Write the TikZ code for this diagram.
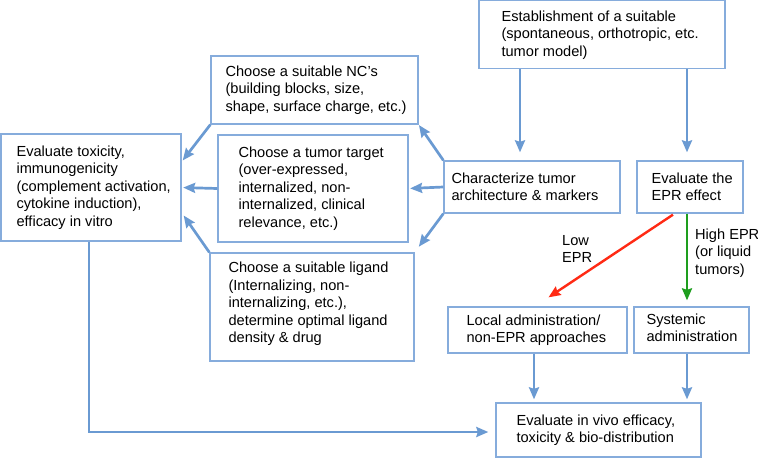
\documentclass[tikz,border=0pt]{standalone}
\usepackage{fontspec}
\setmainfont{Liberation Sans}
\usetikzlibrary{arrows.meta}
\definecolor{boxblue}{HTML}{86ACDC}
\definecolor{arrblue}{HTML}{6A9AD2}
\definecolor{arrred}{HTML}{FF2A14}
\definecolor{arrgreen}{HTML}{1E9E1E}
\begin{document}
\begin{tikzpicture}[x=1pt,y=-1pt,
  box/.style={draw=boxblue, line width=1.3pt, inner sep=0pt},
  txt/.style={align=left, inner sep=0pt, font=\fontsize{14.6}{17.5}\selectfont, text=black},
  arr/.style={draw=arrblue, line width=2.7pt, -{Stealth[length=12pt,width=10pt,inset=1.5pt]}},
  redarr/.style={arr, draw=arrred},
  greenarr/.style={arr, draw=arrgreen}]
\useasboundingbox (0,0) rectangle (758,458);

% boxes
\node[box, minimum width=246pt, minimum height=68pt] (est) at (602,34.8) {};
\node[txt, anchor=west] at ([xshift=23pt]est.west) {Establishment of a suitable\\(spontaneous, orthotropic, etc.\\tumor model)};

\node[box, minimum width=207pt, minimum height=68pt] (nc) at (314.5,90) {};
\node[txt, anchor=west] at ([xshift=15pt]nc.west) {Choose a suitable NC's\\(building blocks, size,\\shape, surface charge, etc.)};

\node[box, minimum width=180pt, minimum height=107pt] (tox) at (91,187.5) {};
\node[txt, anchor=west] at ([xshift=16pt]tox.west) {Evaluate toxicity,\\immunogenicity\\(complement activation,\\cytokine induction),\\efficacy in vitro};

\node[box, minimum width=190pt, minimum height=107pt] (tumor) at (313,188.5) {};
\node[txt, anchor=west] at ([xshift=21pt]tumor.west) {Choose a tumor target\\(over-expressed,\\internalized, non-\\internalized, clinical\\relevance, etc.)};

\node[box, minimum width=176pt, minimum height=52pt] (char) at (532,187) {};
\node[txt, anchor=west] at ([xshift=8pt]char.west) {Characterize tumor\\architecture \& markers};

\node[box, minimum width=106pt, minimum height=52pt] (epr) at (690,187) {};
\node[txt, anchor=west] at ([xshift=15pt]epr.west) {Evaluate the\\EPR effect};

\node[box, minimum width=204pt, minimum height=108pt] (lig) at (312,307) {};
\node[txt, anchor=west] at ([xshift=19pt,yshift=3pt]lig.west) {Choose a suitable ligand\\(Internalizing, non-\\internalizing, etc.),\\determine optimal ligand\\density \& drug};

\node[box, minimum width=179pt, minimum height=46pt] (local) at (537.5,330) {};
\node[txt, anchor=west] at ([xshift=19pt]local.west) {Local administration/\\non-EPR approaches};

\node[box, minimum width=115pt, minimum height=46pt] (sys) at (691.5,330) {};
\node[txt, anchor=west] at ([xshift=13pt,yshift=2pt]sys.west) {Systemic\\administration};

\node[box, minimum width=205pt, minimum height=54pt] (vivo) at (598.5,430) {};
\node[txt, anchor=west] at ([xshift=21pt]vivo.west) {Evaluate in vivo efficacy,\\toxicity \& bio-distribution};

% labels
\node[txt, anchor=west] (low) at (562,249) {Low\\EPR};
\node[txt, anchor=west] (high) at (695,253) {High EPR\\(or liquid\\tumors)};

% connectors
\draw[arr, shorten >=8pt] (est.south -| 520,0) -- (char.north -| 520,0);
\draw[arr, shorten >=8pt] (est.south -| 687,0) -- (epr.north -| 687,0);
\draw[arr, shorten >=0.5pt] (char.north west) -- (nc.south east);
\draw[arr, shorten >=1.5pt] (char.west) -- (tumor.east);
\draw[arr, shorten >=7pt] (char.south west) -- (lig.north east);
\draw[arr] (nc.south west) -- ([xshift=1pt,yshift=27pt]tox.east);
\draw[arr, shorten >=1.5pt] (tumor.west) -- (tox.east);
\draw[arr] (lig.north west) -- ([xshift=2pt,yshift=-28pt]tox.east);
\draw[arr, shorten >=7pt] ([xshift=-2pt]tox.south) |- ([yshift=-2pt]vivo.west);
\draw[redarr, line width=2.4pt] ([xshift=-17pt,yshift=-1pt]epr.south) -- ([xshift=11pt,yshift=9pt]local.north);
\draw[greenarr, line width=2.4pt, shorten >=6pt] (epr.south -| 687,0) -- (sys.north -| 687,0);
\draw[arr, shorten >=3pt] (local.south -| 534,0) -- (vivo.north -| 534,0);
\draw[arr, shorten >=3pt] (sys.south -| 687,0) -- (vivo.north -| 687,0);
\end{tikzpicture}
\end{document}
